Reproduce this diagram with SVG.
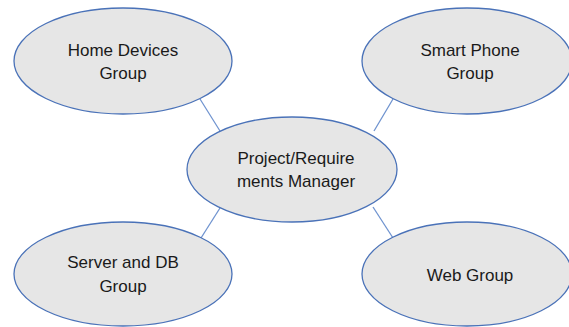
<svg xmlns="http://www.w3.org/2000/svg" width="569" height="327" viewBox="0 0 569 327">
  <style>
    .node ellipse { fill: #e6e6e6; stroke: #4a72b8; stroke-width: 1.3; }
    .node text { font-family: "Liberation Sans", Arial, sans-serif; font-size: 17px; fill: #1a1a1a; text-anchor: middle; }
    .link { stroke: #6f93cf; stroke-width: 1.3; fill: none; }
  </style>
  <rect width="569" height="327" fill="#ffffff"/>

  <g id="connectors">
    <line class="link" x1="200" y1="99" x2="220" y2="131"/>
    <line class="link" x1="393" y1="99" x2="374" y2="131"/>
    <line class="link" x1="220" y1="208" x2="201" y2="238"/>
    <line class="link" x1="373" y1="207" x2="393" y2="238"/>
  </g>

  <g id="home-devices" class="node">
    <ellipse cx="123" cy="61" rx="109" ry="53"/>
    <text x="123" y="56">Home Devices</text>
    <text x="123" y="79">Group</text>
  </g>

  <g id="smart-phone" class="node">
    <ellipse cx="467" cy="61" rx="105" ry="53"/>
    <text x="470" y="56">Smart Phone</text>
    <text x="470" y="79">Group</text>
  </g>

  <g id="manager" class="node">
    <ellipse cx="292" cy="169.5" rx="105" ry="52.5"/>
    <text x="296" y="164">Project/Require</text>
    <text x="296" y="187">ments Manager</text>
  </g>

  <g id="server-db" class="node">
    <ellipse cx="123" cy="274" rx="109" ry="52"/>
    <text x="123" y="268">Server and DB</text>
    <text x="123" y="292">Group</text>
  </g>

  <g id="web" class="node">
    <ellipse cx="467" cy="274" rx="105" ry="52"/>
    <text x="470" y="281">Web Group</text>
  </g>
</svg>
